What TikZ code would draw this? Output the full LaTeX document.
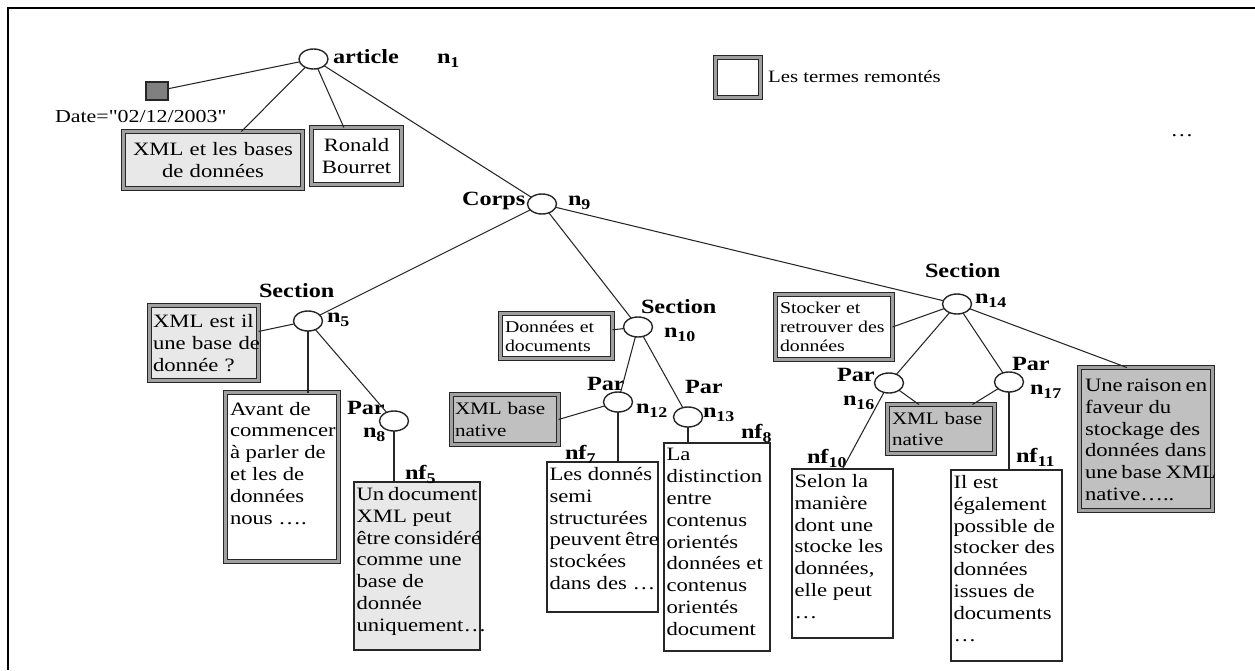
\documentclass[tikz,border=0pt]{standalone}
\usepackage{fontspec}
\setmainfont{Liberation Serif}[FakeStretch=1.2, Ligatures=TeXOff]
\usetikzlibrary{shapes.geometric}

% one drawing unit = one pixel of the 1255 x 670 canvas
\newdimen\pxu \pxu=0.02cm

% leaf texts keep their words whole
\hyphenpenalty=10000
\exhyphenpenalty=10000

\definecolor{ink}{HTML}{262626}
\definecolor{lightfill}{HTML}{E8E8E8}
\definecolor{midfill}{HTML}{C0C0C0}
\definecolor{darkfill}{HTML}{808080}
\definecolor{gapgray}{HTML}{A0A0A0}

\newcommand\txtfont{\fontsize{10.75}{12.4}\selectfont}
\newcommand\smalltxt{\fontsize{9.4}{10.8}\selectfont}
\newcommand\midtxt{\fontsize{10}{12.4}\selectfont}
\newcommand\lblfont{\fontsize{11.5}{13}\selectfont\bfseries}
% node identifiers n_k, nf_k
\newcommand\nsub[2][n]{#1\raisebox{-0.45ex}{\fontsize{8.5}{9}\selectfont #2}}
% top-aligned text block of a fixed size (width, height in px)
\newcommand\leaf[3]{\parbox[t][#2\pxu][t]{#1\pxu}{\raggedright\txtfont #3}}

\begin{document}
\begin{tikzpicture}[x=0.02cm, y=-0.02cm,
  every node/.style={inner sep=0pt, outer sep=0pt, font=\txtfont},
  link/.style={draw=ink, line width=0.6pt},
  elem/.style={ellipse, draw=ink, line width=0.8pt, fill=white,
    minimum width=29*\pxu, minimum height=20*\pxu},
  tag/.style={anchor=base west, font=\lblfont},
  plainbox/.style={draw=ink, line width=0.8pt, anchor=north west,
    inner xsep=2.5*\pxu, inner ysep=5.5*\pxu},
  framed/.style={draw=ink, line width=1pt, double=gapgray, double distance=1.2pt},
]
\useasboundingbox (0,0) rectangle (1255,670);

% page frame
\draw[line width=1.4pt, black] (8,670) -- (8,8) -- (1255,8);

% ---- root: article
\node[elem] (art) at (313.5,59) {};
\node[tag] (artl) at (333,63) {article};
\node[tag] (n1) at (437,63) {\nsub{1}};
\node[draw=ink, line width=0.8pt, fill=darkfill,
  minimum width=22*\pxu, minimum height=18*\pxu] (date) at (157,91) {};
\node[anchor=base west, font=\fontsize{10.4}{12}\selectfont] (datel) at (55,122) {Date="02/12/2003"};
\node[framed, fill=lightfill, text width=179*\pxu, align=center,
  minimum height=57*\pxu] (title) at (213,160) {XML et les bases\\de données};
\node[framed, fill=white, text width=90*\pxu, align=center,
  minimum height=57*\pxu] (ronald) at (356.5,156) {Ronald\\Bourret};

% legend
\node[framed, fill=white, minimum width=45*\pxu, minimum height=40*\pxu] (legend) at (738,77.5) {};
\node[anchor=base west, font=\fontsize{9.9}{12}\selectfont] (legendl) at (768,82) {Les termes remontés};
\node[anchor=base] (more) at (1182,136) {…};

% ---- Corps
\node[elem] (corps) at (542,204) {};
\node[tag] (corpsl) at (462,205) {Corps};
\node[tag] (n9) at (568,205) {\nsub{9}};

% ---- first section
\node[elem] (s5) at (308,321) {};
\node[tag] (s5l) at (259,297) {Section};
\node[tag] (n5) at (327,322) {\nsub{5}};
\node[framed, fill=lightfill, text width=102*\pxu, inner xsep=3.5*\pxu, align=left,
  minimum height=75*\pxu] (xmlq) at (204,343) {XML~est~il\\une~base~de\\donnée~?};
\node[framed, fill=white, anchor=north west, inner xsep=4.5*\pxu, inner ysep=9.6*\pxu]
  (avant) at (225.5,392.5)
  {\leaf{104}{149.8}{Avant~de\\commencer\\à~parler~de\\et~les~de\\données\\nous~….}};
\node[elem] (p8) at (394,421) {};
\node[tag] (p8l) at (347,414) {Par};
\node[tag] (n8) at (363,437) {\nsub{8}};
\node[plainbox, fill=lightfill] (nf5) at (354,482)
  {\leaf{121}{157}{Un~document\\XML~peut\\être~considéré\\comme~une\\base~de\\donnée\\uniquement…}};
\node[tag] (nf5l) at (405,479) {\nsub[nf]{5}};

% ---- second section
\node[elem] (s10) at (638,327) {};
\node[tag] (s10l) at (641,313) {Section};
\node[tag] (n10) at (664,337) {\nsub{10}};
\node[framed, fill=white, text width=103*\pxu, inner xsep=4.5*\pxu, align=left,
  font=\smalltxt, minimum height=45*\pxu] (donnees) at (556.5,336) {Données~et\\documents};
\node[elem] (p12) at (618,402) {};
\node[tag] (p12l) at (587,390) {Par};
\node[tag] (n12) at (636,413) {\nsub{12}};
\node[framed, fill=midfill, text width=100*\pxu, inner xsep=3.5*\pxu, align=left,
  font=\midtxt, minimum height=50*\pxu] (xbn1) at (505,419.5) {XML~base\\native};
\node[elem] (p13) at (688,417) {};
\node[tag] (p13l) at (685,393) {Par};
\node[tag] (n13) at (703,417) {\nsub{13}};
\node[plainbox, fill=white] (nf7) at (547,462)
  {\leaf{106}{139}{Les~donnés\\semi\\structurées\\peuvent~être\\stockées\\dans~des~…}};
\node[tag] (nf7l) at (565,459) {\nsub[nf]{7}};
\node[plainbox, fill=white] (nf8) at (664,443)
  {\leaf{101}{197}{La\\distinction\\entre\\contenus\\orientés\\données~et\\contenus\\orientés\\document}};
\node[tag] (nf8l) at (741,438) {\nsub[nf]{8}};

% ---- third section
\node[elem] (s14) at (957,304) {};
\node[tag] (s14l) at (925,277) {Section};
\node[tag] (n14) at (975,303) {\nsub{14}};
\node[framed, fill=white, text width=108*\pxu, inner xsep=4.5*\pxu, align=left,
  font=\smalltxt, minimum height=65*\pxu] (stocker) at (834,327) {Stocker~et\\retrouver~des\\données};
\node[elem] (p16) at (889,383) {};
\node[tag] (p16l) at (837,381) {Par};
\node[tag] (n16) at (843,405) {\nsub{16}};
\node[elem] (p17) at (1009,382) {};
\node[tag] (p17l) at (1012,370) {Par};
\node[tag] (n17) at (1030,394) {\nsub{17}};
\node[framed, fill=midfill, text width=98*\pxu, inner xsep=4.5*\pxu, align=left,
  font=\midtxt, minimum height=49*\pxu] (xbn2) at (941,429) {XML~base\\native};
\node[framed, fill=midfill, anchor=north west, inner xsep=5.5*\pxu, inner ysep=11.6*\pxu]
  (big) at (1079.5,367.5)
  {\leaf{122}{119.8}{Une~raison~en\\faveur~du\\stockage~des\\données~dans\\une~base~XML\\native…..}};
\node[plainbox, fill=white] (nf10) at (792,469)
  {\leaf{96}{158}{Selon~la\\manière\\dont~une\\stocke~les\\données,\\elle~peut\\…}};
\node[tag] (nf10l) at (807,463) {\nsub[nf]{10}};
\node[plainbox, fill=white] (nf11) at (951,470)
  {\leaf{106}{180}{Il~est\\également\\possible~de\\stocker~des\\données\\issues~de\\documents\\…}};
\node[tag] (nf11l) at (1016,462) {\nsub[nf]{11}};

% ---- edges
\draw[link] (art) -- (date);
\draw[link] (art) -- (title);
\draw[link] (art) -- (ronald);
\draw[link] (art) -- (corps);
\draw[link] (corps) -- (s5);
\draw[link] (corps) -- (s10);
\draw[link] (corps) -- (s14);
\draw[link] (s5) -- (xmlq);
\draw[link] (s5.south) -- (s5.south |- avant.north);
\draw[link] (s5) -- (p8);
\draw[link] (p8.south) -- (p8.south |- nf5.north);
\draw[link] (s10) -- (donnees);
\draw[link] (s10) -- (p12);
\draw[link] (s10) -- (p13);
\draw[link] (p12) -- (xbn1.east);
\draw[link] (p12.south) -- (p12.south |- nf7.north);
\draw[link] (p13.south) -- (p13.south |- nf8.north);
\draw[link] (s14) -- (stocker.east);
\draw[link] (s14) -- (big.105);
\draw[link] (s14) -- (p16);
\draw[link] (s14) -- (p17);
\draw[link] (p16) -- (xbn2.132);
\draw[link] (p17) -- (xbn2.38);
\draw[link] (p16) -- (nf10.north);
\draw[link] (p17.south) -- (p17.south |- nf11.north);
\end{tikzpicture}
\end{document}
